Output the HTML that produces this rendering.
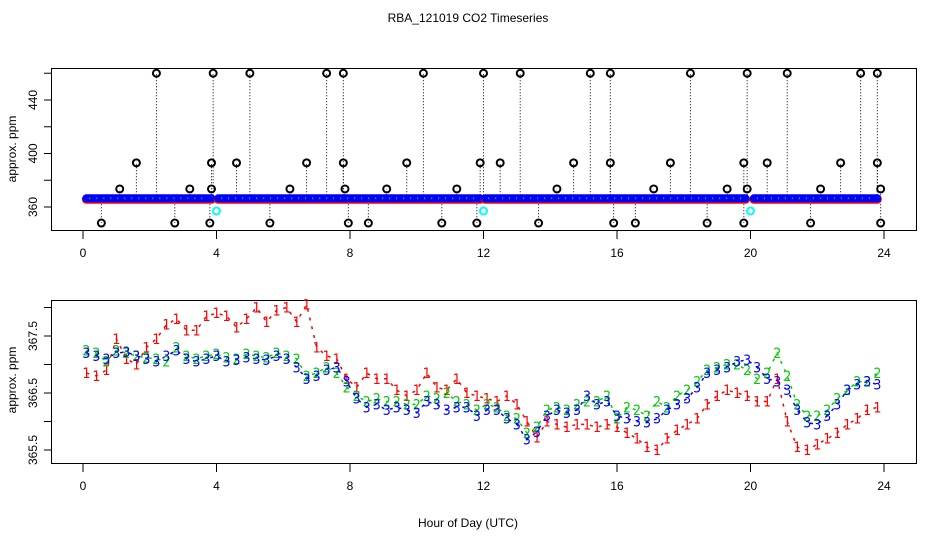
<!DOCTYPE html>
<html><head><meta charset="utf-8">
<style>
html,body{margin:0;padding:0;background:#fff;}
svg{display:block;font-family:"Liberation Sans",Arial,sans-serif;}
</style></head>
<body>
<svg id="chart" width="936" height="540" viewBox="0 0 936 540" xmlns="http://www.w3.org/2000/svg">
<rect width="936" height="540" fill="#fff"/>
<text x="468" y="22" font-size="12" text-anchor="middle">RBA_121019  CO2 Timeseries</text>
<g id="topPanel"></g>
<g id="botPanel"></g>
<text x="468" y="527" font-size="12" text-anchor="middle">Hour of Day (UTC)</text>
</svg>
<script>
// ---------- data ----------
const hours = [0.1,0.4,0.7,1.0,1.3,1.6,1.9,2.2,2.5,2.8,3.1,3.4,3.7,4.0,4.3,4.6,4.9,5.2,5.5,5.8,6.1,6.4,6.7,7.0,7.3,7.6,7.9,8.2,8.5,8.8,9.1,9.4,9.7,10.0,10.3,10.6,10.9,11.2,11.5,11.8,12.1,12.4,12.7,13.0,13.3,13.6,13.9,14.2,14.5,14.8,15.1,15.4,15.7,16.0,16.3,16.6,16.9,17.2,17.5,17.8,18.1,18.4,18.7,19.0,19.3,19.6,19.9,20.2,20.5,20.8,21.1,21.4,21.7,22.0,22.3,22.6,22.9,23.2,23.5,23.8];
const series1 = [366.85,366.8,366.9,367.45,367.1,367.0,367.3,367.45,367.7,367.8,367.6,367.6,367.85,367.9,367.85,367.65,367.8,368.0,367.75,367.95,368.0,367.75,368.05,367.3,367.15,367.1,366.75,366.6,366.85,366.75,366.75,366.55,366.45,366.55,366.85,366.6,366.55,366.75,366.5,366.45,366.4,366.35,366.45,366.3,366.0,365.72,366.0,365.95,365.9,365.95,365.95,365.9,365.95,365.9,365.8,365.7,365.55,365.5,365.7,365.85,365.95,366.05,366.3,366.45,366.55,366.5,366.45,366.35,366.35,366.75,366.0,365.55,365.5,365.6,365.7,365.8,365.95,366.05,366.2,366.25];
const series2 = [367.25,367.2,367.05,367.25,367.2,367.15,367.12,367.1,367.05,367.3,367.15,367.1,367.15,367.18,367.12,367.1,367.18,367.15,367.12,367.2,367.15,367.1,366.8,366.85,366.95,366.85,366.6,366.45,366.35,366.4,366.35,366.35,366.3,366.3,366.45,366.4,366.5,366.35,366.3,366.2,366.3,366.25,366.1,366.05,365.8,365.9,366.2,366.25,366.2,366.3,366.35,366.35,366.45,366.05,366.25,366.2,366.1,366.35,366.25,366.45,366.55,366.7,366.9,366.95,367.0,367.0,366.9,366.75,366.85,367.2,366.8,366.3,366.1,366.1,366.2,366.4,366.55,366.7,366.7,366.85];
const series3 = [367.2,367.15,367.1,367.2,367.22,367.15,367.1,367.05,367.15,367.25,367.1,367.05,367.1,367.15,367.05,367.08,367.12,367.1,367.08,367.15,367.1,366.95,366.75,366.8,366.9,366.95,366.7,366.4,366.25,366.3,366.2,366.25,366.2,366.15,366.35,366.3,366.2,366.25,366.25,366.1,366.2,366.2,366.05,365.95,365.68,365.82,366.1,366.2,366.15,366.2,366.45,366.3,366.35,366.1,366.05,366.0,365.98,366.05,366.2,366.3,366.4,366.6,366.85,366.9,366.95,367.05,367.08,366.95,366.75,366.7,366.55,366.2,365.98,365.95,366.1,366.3,366.55,366.65,366.7,366.65];
const outlierHours = [2.2,3.9,5.0,7.3,7.8,10.2,12.0,13.1,15.2,15.8,18.2,19.9,21.1,23.3,23.8, 1.6,3.85,4.6,6.7,7.8,9.7,11.9,12.5,14.7,15.8,17.6,19.8,20.5,22.7,23.8, 1.1,3.2,3.85,6.2,7.85,9.1,11.2,14.2,17.1,19.3,19.9,22.1,23.9, 0.55,2.75,3.8,5.6,7.95,8.55,10.75,11.8,13.65,15.9,16.55,18.7,19.8,21.8,23.9];
const outlierValues = [460,460,460,460,460,460,460,460,460,460,460,460,460,460,460, 393,393,393,393,393,393,393,393,393,393,393,393,393,393,393, 373.5,373.5,373.5,373.5,373.5,373.5,373.5,373.5,373.5,373.5,373.5,373.5,373.5, 348,348,348,348,348,348,348,348,348,348,348,348,348,348,348];
const cyanHours = [4.0,12.0,20.0];
const cyanValues = [357,357,357];
const bandStarts = [0.1,4.05,12.05,20.1];
const bandEnds = [3.85,11.9,19.85,23.8];
const bandLevel = 366.5;
const xTicks = [0,4,8,12,16,20,24];
const topYTicks = [360,380,400,420,440,460];
const topYLabels = ["360","","400","","440",""];
const botYTicks = [365.5,366,366.5,367,367.5,368];
const botYLabels = ["365.5","","366.5","","367.5",""];

// ---------- scales ----------
const X = h => 83 + h*(884-83)/24;
const Yt = v => 207 - (v-360)*1.3375;
const Yb = v => 450 - (v-365.5)*57;
const NS = "http://www.w3.org/2000/svg";
function mk(parent, tag, attrs){ const e=document.createElementNS(NS,tag); for(const k in attrs) e.setAttribute(k,attrs[k]); parent.appendChild(e); return e; }

function axes(g, y0, y1, yTicks, yLabels, Y, midY){
  const box = mk(g,'rect',{x:51.5,y:y0+0.5,width:865,height:y1-y0,fill:'none',stroke:'#000','stroke-width':1});
  
  
  xTicks.forEach(t=>{
    const l = mk(g,'line',{x1:X(t),x2:X(t),y1:y1,y2:y1+9,stroke:'#000'});
    
    
    const tx = mk(g,'text',{x:X(t),y:y1+27,'font-size':12,'text-anchor':'middle'});
    
    
    tx.textContent = t;
  });
  yTicks.forEach((t,i)=>{
    const y = Y(t);
    const l = mk(g,'line',{x1:44,x2:51.5,y1:y,y2:y,stroke:'#000'});
    
    
    if(yLabels[i]){
      const tx = mk(g,'text',{x:0,y:0,'font-size':12,'text-anchor':'middle',transform:`translate(37,${y}) rotate(-90)`});
      
      
      tx.textContent = yLabels[i];
    }
  });
  const yt = mk(g,'text',{x:0,y:0,'font-size':12,'text-anchor':'middle',transform:`translate(16,${midY}) rotate(-90)`});
  
  
  yt.textContent = 'approx. ppm';
}

// ---------- top panel ----------
const topG = document.getElementById('topPanel');
axes(topG, 68, 230, topYTicks, topYLabels, Yt, 149);
outlierHours.forEach((h,i)=>{
  const l = mk(topG,'line',{x1:X(h),x2:X(h),y1:Yt(bandLevel),y2:Yt(outlierValues[i]),stroke:'#000','stroke-width':1,'stroke-dasharray':'1,2'});
  
  
});
bandStarts.forEach((s,i)=>{
  const e = bandEnds[i];
  const r = mk(topG,'line',{x1:X(s),x2:X(e),y1:Yt(bandLevel)+1,y2:Yt(bandLevel)+1,stroke:'#f00','stroke-width':9,'stroke-linecap':'round'});
  
  
  const b = mk(topG,'line',{x1:X(s),x2:X(e),y1:Yt(bandLevel),y2:Yt(bandLevel),stroke:'#00f','stroke-width':8,'stroke-linecap':'round'});
  
  
  const gline = mk(topG,'line',{x1:X(s)+3,x2:X(e)-3,y1:Yt(bandLevel),y2:Yt(bandLevel),stroke:'#0c0','stroke-width':2,'stroke-dasharray':'1,6'});
  
  
});
outlierHours.forEach((h,i)=>{
  const c = mk(topG,'circle',{cx:X(h),cy:Yt(outlierValues[i]),r:3.5,fill:'none',stroke:'#000','stroke-width':2});
  
  
});
cyanHours.forEach((h,i)=>{
  const c = mk(topG,'circle',{cx:X(h),cy:Yt(cyanValues[i]),r:3.5,fill:'none',stroke:'#0ff','stroke-width':2});
  
  
});

// ---------- bottom panel ----------
const botG = document.getElementById('botPanel');
axes(botG, 300, 463, botYTicks, botYLabels, Yb, 380);
const defs = [[series1,'#f00','1'],[series2,'#0c0','2'],[series3,'#00f','3']];
defs.forEach(([vals,col,ch])=>{
  const pts = hours.map((h,i)=>X(h)+','+Yb(vals[i])).join(' ');
  const pl = mk(botG,'polyline',{points:pts,fill:'none',stroke:col,'stroke-width':1.5,'stroke-dasharray':'3,6'});
  
  
});
defs.forEach(([vals,col,ch])=>{
  hours.forEach((h,i)=>{
    const t = mk(botG,'text',{x:X(h),y:Yb(vals[i])+5,'font-size':14,fill:col,'text-anchor':'middle','font-family':'"DejaVu Sans Condensed","Liberation Sans Narrow","Liberation Sans",sans-serif'});
    
    
    t.textContent = ch;
  });
});
</script>
</body></html>
